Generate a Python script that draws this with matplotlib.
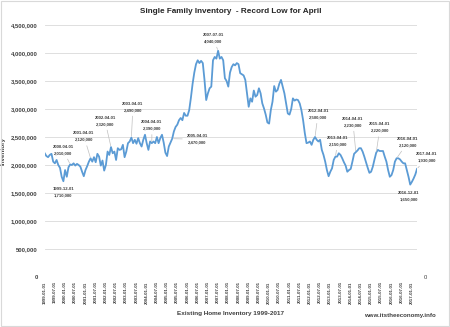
import matplotlib
matplotlib.use("Agg")
import matplotlib.pyplot as plt
import matplotlib.patches as patches
from matplotlib.ticker import FuncFormatter
import pandas as pd

plt.rcParams['font.family'] = ['Liberation Sans Narrow', 'Liberation Sans', 'DejaVu Sans']

# single family inventory, thousands, monthly
inv_1999 = [2210, 2160, 2140, 2180, 2200, 2060, 2030, 2090, 2000, 1950, 1790, 1710]
inv_2000 = [1910, 1790, 1960, 2010, 2000, 2030, 1990, 2020, 2000, 1970, 1880, 1800]
inv_2001 = [1910, 1980, 2060, 2120, 2060, 2140, 2050, 2200, 2150, 1990, 2080, 1900]
inv_2002 = [2000, 2240, 2180, 2320, 2210, 2240, 2090, 2300, 2270, 2280, 2360, 2140]
inv_2003 = [2240, 2390, 2420, 2490, 2390, 2450, 2380, 2480, 2390, 2330, 2450, 2540]
inv_2004 = [2390, 2270, 2420, 2390, 2420, 2390, 2500, 2390, 2480, 2540, 2400, 2220]
inv_2005 = [2160, 2330, 2400, 2470, 2600, 2680, 2720, 2800, 2840, 2800, 2930, 2880]
inv_2006 = [2880, 2980, 3200, 3450, 3650, 3800, 3870, 3820, 3860, 3820, 3520, 3160]
inv_2007 = [3280, 3370, 3400, 3870, 3930, 3900, 4040, 3900, 3930, 3870, 3550, 3500]
inv_2008 = [3400, 3650, 3750, 3800, 3780, 3820, 3800, 3640, 3620, 3600, 3520, 3280]
inv_2009 = [3040, 3190, 3130, 3330, 3220, 3250, 3370, 3280, 3100, 3010, 2900, 2760]
inv_2010 = [2740, 2980, 3130, 3410, 3310, 3340, 3450, 3520, 3400, 3280, 3100, 2920]
inv_2011 = [2900, 3000, 3190, 3150, 3170, 3160, 3100, 2980, 2800, 2570, 2390, 2400]
inv_2012 = [2420, 2360, 2450, 2500, 2450, 2420, 2450, 2270, 2180, 2060, 1910, 1800]
inv_2013 = [1880, 1940, 2090, 2150, 2150, 2210, 2180, 2120, 2050, 1990, 1880, 1910]
inv_2014 = [1930, 2060, 2200, 2230, 2260, 2300, 2300, 2240, 2150, 2050, 1950, 1860]
inv_2015 = [1880, 1970, 2100, 2220, 2270, 2250, 2250, 2250, 2150, 2060, 1910, 1790]
inv_2016 = [1820, 1910, 2060, 2120, 2120, 2100, 2060, 2030, 2030, 1910, 1790, 1650]
inv_2017 = [1700, 1760, 1830, 1930]

inventory = [v * 1000 for v in (inv_1999 + inv_2000 + inv_2001 + inv_2002 + inv_2003 +
                                 inv_2004 + inv_2005 + inv_2006 + inv_2007 + inv_2008 +
                                 inv_2009 + inv_2010 + inv_2011 + inv_2012 + inv_2013 +
                                 inv_2014 + inv_2015 + inv_2016 + inv_2017)]
months = pd.date_range("1999-01-01", periods=len(inventory), freq="MS")
month_labels = [d.strftime("%Y-%m-%d") for d in months]

# dates that get a callout
callout_dates = ["1999-12-01", "2000-04-01", "2001-04-01", "2002-04-01", "2003-04-01",
                 "2004-04-01", "2005-04-01", "2007-07-01", "2012-04-01", "2013-04-01",
                 "2014-04-01", "2015-04-01", "2016-04-01", "2016-12-01", "2017-04-01"]
# where the callout text sits (month index, value)
callout_xy = [(10.8, 1.52e6), (10.8, 2.27e6), (23.1, 2.51e6), (35.5, 2.79e6), (51.9, 3.04e6),
              (63.1, 2.71e6), (89.6, 2.46e6), (99.0, 4.27e6), (160.8, 2.91e6), (172.5, 2.43e6),
              (181.3, 2.77e6), (197.2, 2.67e6), (213.7, 2.41e6), (214.3, 1.44e6), (224.9, 2.14e6)]
no_leader = ["1999-12-01", "2016-12-01"]

fig = plt.figure(figsize=(4.5, 3.27), dpi=100)
ax = fig.add_axes([0.0993, 0.1529, 0.8274, 0.7706])

x = list(range(len(inventory)))
ax.plot(x, inventory, color='#5B9BD5', lw=1.3, zorder=3)

ax.set_xlim(0, len(inventory) - 1)
ax.set_ylim(0, 4500000)
ax.set_yticks(range(0, 4500001, 500000))
ax.yaxis.set_major_formatter(FuncFormatter(lambda v, p: f"{int(v):,}"))
ax.set_xticks(x[::6])
ax.set_xticklabels(month_labels[::6], rotation=90, fontsize=3.2, fontweight='bold', color='#404040')
ax.tick_params(axis='y', labelsize=4.2, colors='#404040', length=0, pad=5)
ax.tick_params(axis='x', length=0, pad=3)
for lab in ax.get_yticklabels():
    lab.set_fontweight('bold')
ax.grid(axis='y', color='#D9D9D9', lw=0.6)
ax.set_axisbelow(True)
for s in ax.spines.values():
    s.set_visible(False)

ax.set_ylabel("Inventory", fontsize=4.5, fontweight='bold', color='#404040', labelpad=4)
ax.set_xlabel("Existing Home Inventory 1999-2017", fontsize=4.6, fontweight='bold',
              color='#404040', labelpad=5)
ax.set_title("Single Family Inventory  - Record Low for April", fontsize=5.9,
             fontweight='bold', color='#262626', pad=9)

for d, (tx, ty) in zip(callout_dates, callout_xy):
    i = month_labels.index(d)
    txt = f"{d}\n{inventory[i]:,}"
    props = None if d in no_leader else dict(arrowstyle='-', color='#BFBFBF', lw=0.5,
                                             shrinkA=1, shrinkB=1)
    ax.annotate(txt, xy=(i, inventory[i]), xytext=(tx, ty), textcoords='data',
                ha='center', va='center', fontsize=3.1, color='#404040', fontweight='bold',
                linespacing=1.8, arrowprops=props, annotation_clip=False, zorder=4)

# secondary axis, only shows 0
ax2 = ax.twinx()
ax2.set_ylim(0, 1)
ax2.set_yticks([0])
ax2.set_yticklabels(["0"])
ax2.tick_params(axis='y', labelsize=4.2, colors='#404040', length=0, pad=5)
for s in ax2.spines.values():
    s.set_visible(False)

fig.text(0.889, 0.036, "www.itstheeconomy.info", fontsize=4.4, fontweight='bold',
         color='#404040', ha='center', va='center')

fig.patches.append(patches.Rectangle((0.002, 0.003), 0.996, 0.994, transform=fig.transFigure,
                                     fill=False, edgecolor='#D9D9D9', lw=0.8))

fig.savefig("out.png", dpi=100, facecolor='white')
